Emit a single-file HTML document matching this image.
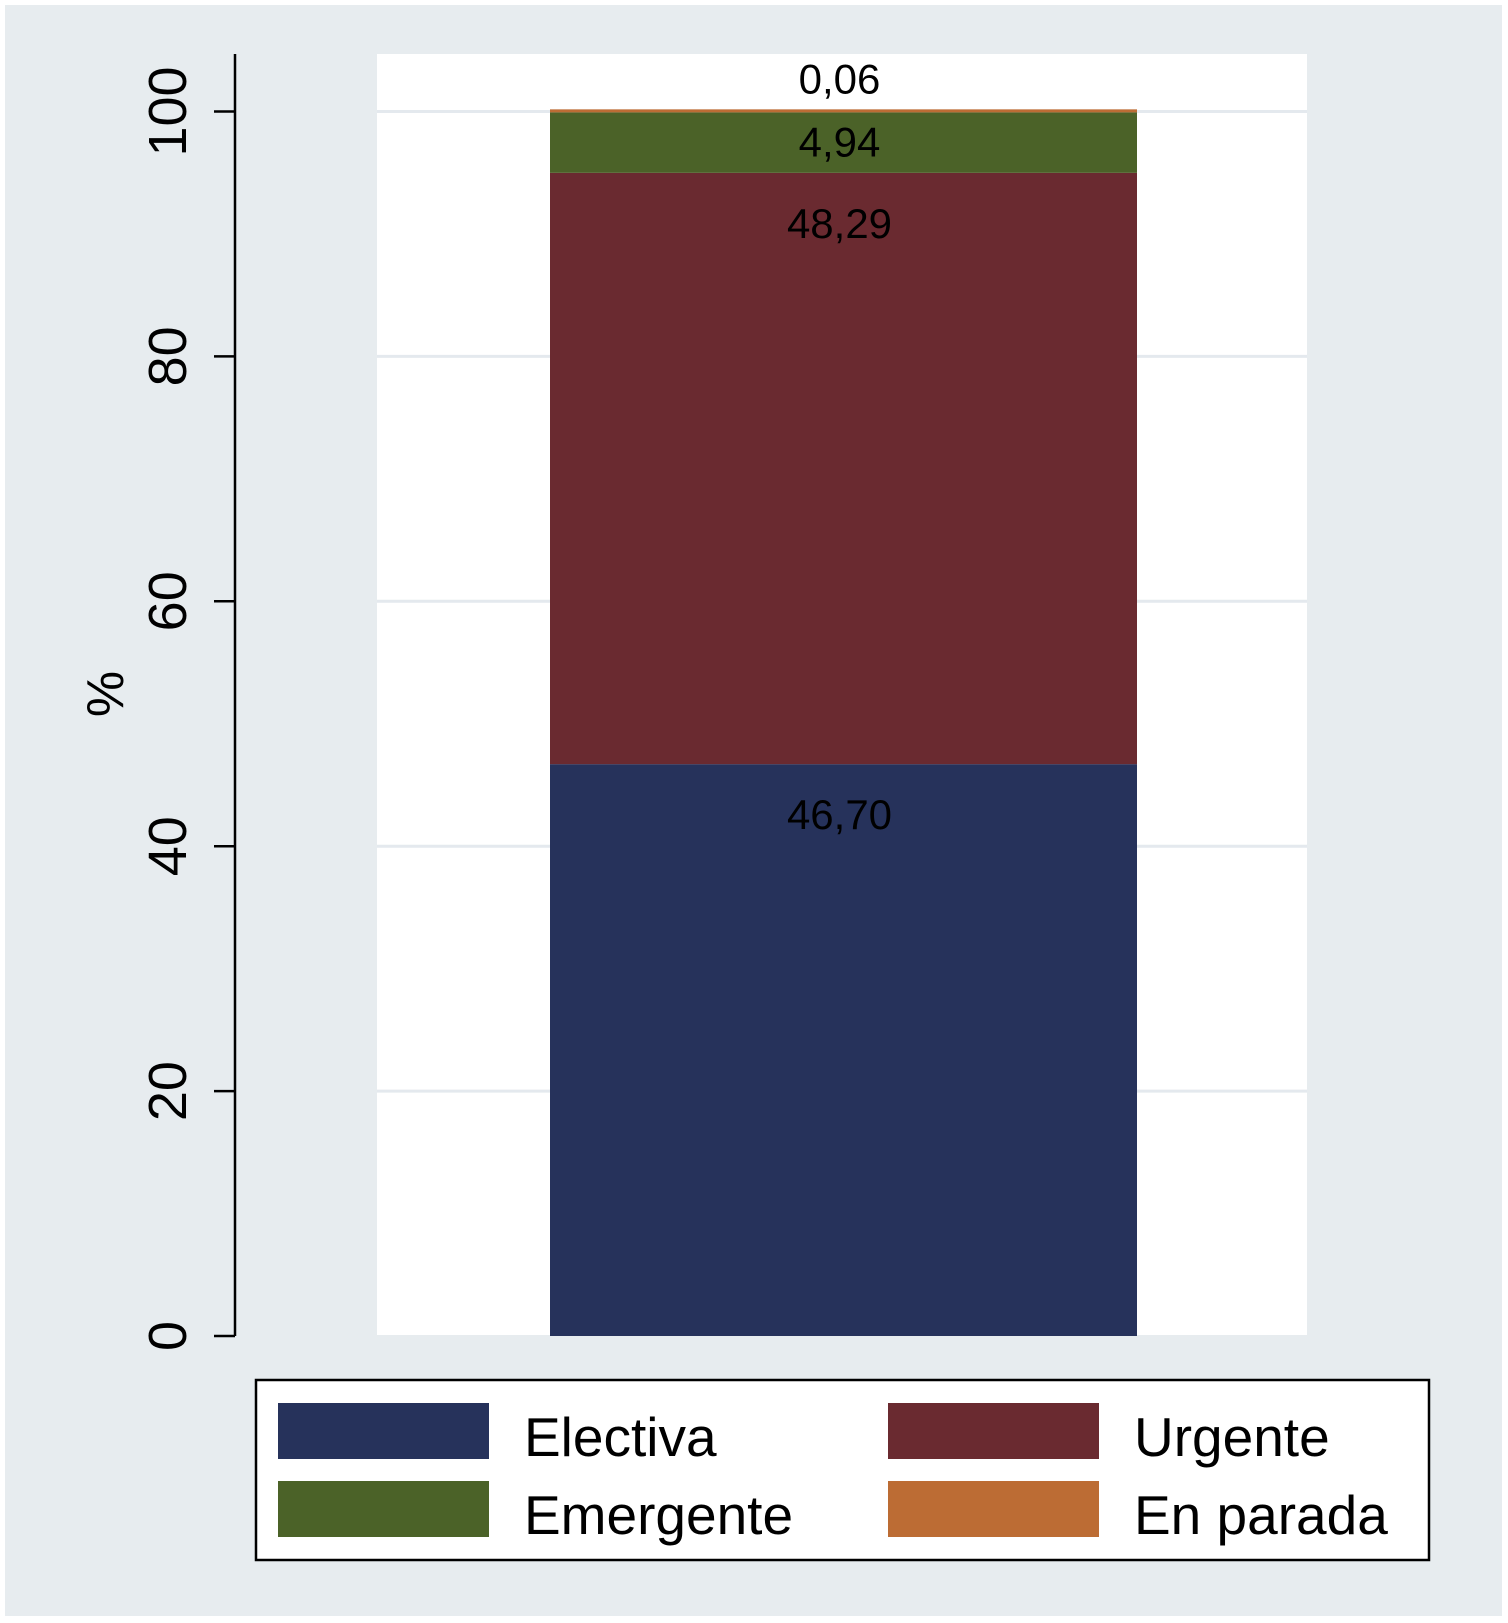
<!DOCTYPE html>
<html><head><meta charset="utf-8"><style>
html,body{margin:0;padding:0;background:#fff;}
svg{display:block;font-family:"Liberation Sans",sans-serif;}
</style></head><body>
<svg id="chart" width="1508" height="1623" viewBox="0 0 1508 1623">
<rect x="5" y="5" width="1497" height="1611" fill="#e7ecef"/>
<rect x="377" y="54" width="930" height="1281" fill="#ffffff"/>
<g id="grid"></g>
<g id="bars"></g>
<g id="labels"></g>
<line x1="235" y1="54" x2="235" y2="1336" stroke="#000" stroke-width="2.5"/>
<g id="yticks"></g>
<text x="0" y="0" transform="translate(123,694) rotate(-90)" text-anchor="middle" font-size="52" fill="#000">%</text>
<g>
<rect x="256" y="1380" width="1173" height="180" fill="#fff" stroke="#000" stroke-width="2.5"/>
<g id="legend-items"></g>
</g>
</svg>
<script>
const categories = ["Electiva","Urgente","Emergente","En parada"];
const values = [46.70, 48.29, 4.94, 0.06];
const valueLabels = ["46,70","48,29","4,94","0,06"];
const colors = ["#26325b","#6a2a30","#4b6228","#bc6c34"];
const yTicks = [0,20,40,60,80,100];

const NS="http://www.w3.org/2000/svg";
const y0=1336, y100=111.5;
function yScale(v){return y0-(y0-y100)*v/100;}
const barX=550, barW=587;
function mk(tag,attrs,parent){const e=document.createElementNS(NS,tag);for(const k in attrs)e.setAttribute(k,attrs[k]);parent.appendChild(e);return e;}

const grid=document.getElementById('grid'), yt=document.getElementById('yticks');
yTicks.forEach(t=>{
  const y=yScale(t);
  if(t>0){const g=mk('line',{x1:377,x2:1307,y1:y,y2:y,stroke:'#e4e9ee','stroke-width':3},grid);
  
  }
  const tk=mk('line',{x1:214,x2:235,y1:y,y2:y,stroke:'#000','stroke-width':2.5},yt);
  
  
  const tx=mk('text',{transform:`translate(186,${y}) rotate(-90)`,'text-anchor':'middle','font-size':54,fill:'#000'},yt);
  tx.textContent=t;
  
  
});

const bars=document.getElementById('bars'), labels=document.getElementById('labels');
let cum=0;
values.forEach((v,i)=>{
  let top=yScale(cum+v); const bot=yScale(cum);
  let drawTop=Math.min(top,bot-3);
  const r=mk('rect',{x:barX,y:drawTop,width:barW,height:bot-drawTop,fill:colors[i]},bars);
  
  
  const h=bot-top;
  let ly = h>130 ? top+65 : (h>15 ? (top+bot)/2+14 : top-18);
  const t=mk('text',{x:barX+barW/2-4,y:ly,'text-anchor':'middle','font-size':42,fill:'#000'},labels);
  t.textContent=valueLabels[i];
  
  
  cum+=v;
});

const li=document.getElementById('legend-items');
const pos=[[278,1403],[888,1403],[278,1481],[888,1481]];
const order=[0,1,2,3];
order.forEach((ci,k)=>{
  const [x,y]=pos[k];
  const s=mk('rect',{x:x,y:y,width:211,height:56,fill:colors[ci]},li);
  
  
  const t=mk('text',{x:x+246,y:y+53,'font-size':55,fill:'#000'},li);
  t.textContent=categories[ci];
  
  
});
</script>
</body></html>
